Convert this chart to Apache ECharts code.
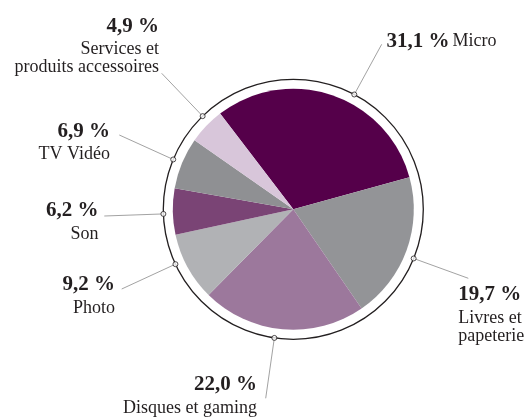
<!DOCTYPE html>
<html>
<head>
<meta charset="utf-8">
<script src="https://cdn.jsdelivr.net/npm/echarts@6/dist/echarts.min.js"></script>
<style>
  html, body { margin: 0; padding: 0; background: #ffffff; }
  #chart { width: 527px; height: 417px; }
</style>
</head>
<body>
<div id="chart"></div>
<script>
// Répartition du chiffre d'affaires par famille de produits (%)
const categories = [
  'Micro',
  'Livres et\npapeterie',
  'Disques et gaming',
  'Photo',
  'Son',
  'TV Vidéo',
  'Services et\nproduits accessoires'
];
const shares = [31.1, 19.7, 22.0, 9.2, 6.2, 6.9, 4.9];
const sliceColors = ['#55004a', '#939497', '#9c789c', '#b1b2b5', '#7a4475', '#8f9093', '#d8c6da'];

// Geometry of the pie and the surrounding ring
const CX = 293.3, CY = 209.3;
const PIE_R = 120.5, RING_R = 130;
const START = 127.4;
const INK = '#231f20';
const SERIF = '"Liberation Serif", "DejaVu Serif", serif';

// Label placement: anchor of the text block, its alignment, the end of the leader
// line and a small clockwise nudge (deg) of the leader dot along the ring.
const labelPlace = [
  { x: 386.5, y: 27.5, align: 'left',  end: [381.7, 44.3], nudge: 9.4 },
  { x: 458.3, y: 281,  align: 'left',  end: [468.3, 278.3], nudge: 2.2 },
  { x: 257,   y: 371,  align: 'right', end: [265.7, 398.3], nudge: 3.3 },
  { x: 115,   y: 271,  align: 'right', end: [121.7, 289],   nudge: 3.8 },
  { x: 98.5,  y: 197,  align: 'right', end: [104.3, 216],   nudge: -1 },
  { x: 110,   y: 117.5, align: 'right', end: [119.3, 135],  nudge: 0 },
  { x: 159,   y: 12.5, align: 'right', end: [161.7, 73.3],  nudge: 2 }
];

const total = shares.reduce((a, b) => a + b, 0);
// clockwise angle (deg, from START) of each leader dot
const leaderAngles = [];
let acc = 0;
shares.forEach((v, i) => {
  const mid = acc + v / 2;
  leaderAngles.push(mid / total * 360 + labelPlace[i].nudge);
  acc += v;
});

const fmt = v => v.toFixed(1).replace('.', ',') + ' %';

const chart = echarts.init(document.getElementById('chart'), null, { renderer: 'canvas' });

chart.setOption({
  animation: false,
  backgroundColor: '#ffffff',
  polar: { center: [CX, CY], radius: RING_R },
  angleAxis: {
    type: 'value', min: 0, max: 360, startAngle: START, clockwise: true,
    axisLine: { show: true, lineStyle: { color: INK, width: 1.3 } },
    axisTick: { show: false }, axisLabel: { show: false }, splitLine: { show: false }
  },
  radiusAxis: {
    type: 'value', min: 0, max: 1, show: false,
    axisLine: { show: false }, axisTick: { show: false }, axisLabel: { show: false }, splitLine: { show: false }
  },
  series: [
    {
      type: 'pie',
      center: [CX, CY],
      radius: PIE_R,
      startAngle: START,
      clockwise: true,
      avoidLabelOverlap: false,
      silent: true,
      z: 2,
      data: shares.map((v, i) => ({ name: categories[i], value: v, itemStyle: { color: sliceColors[i] } })),
      label: {
        show: true,
        color: INK,
        fontFamily: SERIF,
        formatter: p => {
          const lines = p.name.split('\n').map(s => '{n|' + s + '}');
          if (p.dataIndex === 0) return '{b|' + fmt(p.value) + '} ' + lines.join('');
          return '{b|' + fmt(p.value) + '}\n' + lines.join('\n');
        },
        rich: {
          b: { fontFamily: SERIF, fontWeight: 'bold', fontSize: 21, lineHeight: 28, color: INK },
          n: { fontFamily: SERIF, fontSize: 18, lineHeight: 18, color: INK }
        }
      },
      labelLine: { show: true, length: 10, length2: 10, lineStyle: { color: '#8a8a8a', width: 0.8 } },
      labelLayout: p => {
        const L = labelPlace[p.dataIndex];
        const a = (START - leaderAngles[p.dataIndex]) * Math.PI / 180;
        const sx = CX + RING_R * Math.cos(a);
        const sy = CY - RING_R * Math.sin(a);
        return {
          x: L.x, y: L.y, align: L.align, verticalAlign: 'top',
          labelLinePoints: [[sx, sy], L.end, L.end]
        };
      }
    },
    {
      type: 'scatter',
      coordinateSystem: 'polar',
      symbol: 'circle',
      symbolSize: 5,
      silent: true,
      z: 5,
      itemStyle: { color: '#ffffff', borderColor: INK, borderWidth: 1 },
      data: leaderAngles.map(a => [1, a])
    }
  ]
});
</script>
</body>
</html>
